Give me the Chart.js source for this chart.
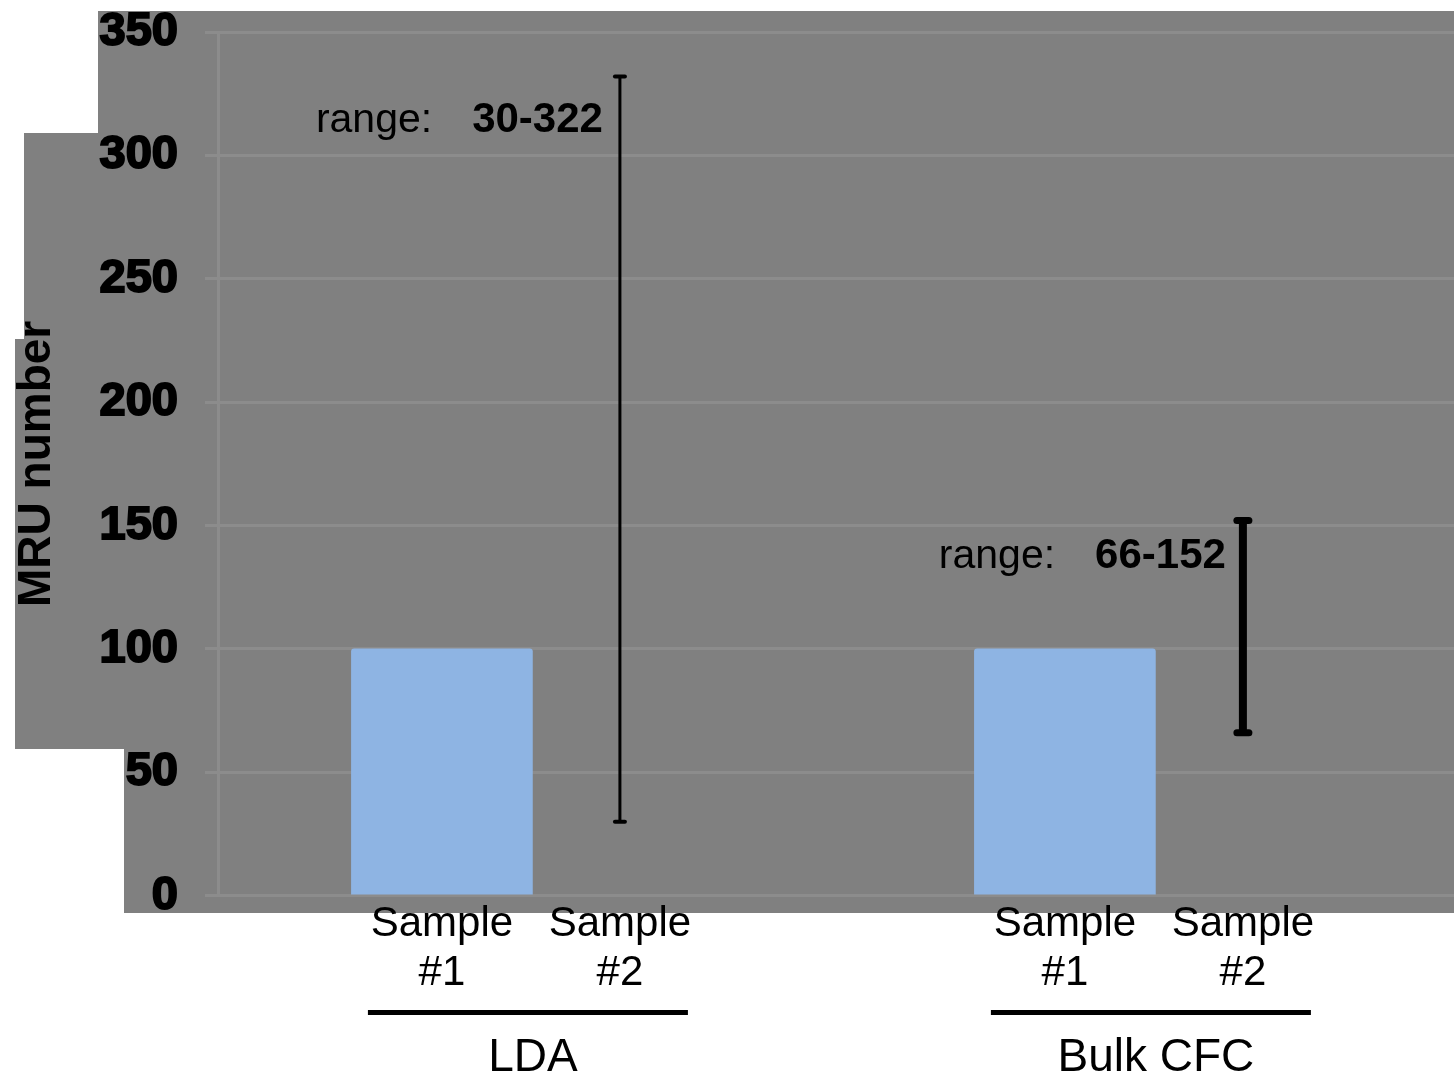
<!DOCTYPE html>
<html>
<head>
<meta charset="utf-8">
<script src="https://cdn.jsdelivr.net/npm/chart.js@4/dist/chart.umd.min.js"></script>
<style>
  body { margin: 0; background: #fff; }
  #wrap { width: 1454px; height: 1082px; }
</style>
</head>
<body>
<div id="wrap"><canvas id="mruChart" width="1454" height="1082"></canvas></div>
<script>
// data
const groups = ['LDA', 'Bulk CFC'];
const samples = [['Sample', '#1'], ['Sample', '#2']];
const xPos = [1, 2, 4.5, 5.5];           // Sample #1 / #2 of each group
const barValues = [100, 100];            // Sample #1 of each group
const rangeLow = [30, 66];               // Sample #2 error bars
const rangeHigh = [332, 152];
const rangeText = ['30-322', '66-152'];
const yTicks = [0, 50, 100, 150, 200, 250, 300, 350];

const gridGray = '#8c8c8c';

// odd gray panel behind the plot (from the original screenshot)
const bgPanel = {
  id: 'bgPanel',
  beforeDraw(chart) {
    const ctx = chart.ctx;
    ctx.save();
    ctx.fillStyle = '#808080';
    ctx.fillRect(98, 11, 1356, 122);
    ctx.fillRect(24, 133, 1430, 206);
    ctx.fillRect(15, 339, 1439, 410);
    ctx.fillRect(124, 749, 1330, 164);
    ctx.restore();
  }
};

// error bars + range labels for sample #2
const rangeBars = {
  id: 'rangeBars',
  afterDatasetsDraw(chart) {
    const ctx = chart.ctx;
    const x = chart.scales.x, y = chart.scales.y;
    const widths = [3, 8];
    const caps = [7, 8];
    ctx.save();
    groups.forEach((g, i) => {
      const px = x.getPixelForValue(xPos[i * 2 + 1]);
      const top = y.getPixelForValue(rangeHigh[i]);
      const bot = y.getPixelForValue(rangeLow[i]);
      ctx.strokeStyle = '#000';
      ctx.fillStyle = '#000';
      ctx.lineWidth = widths[i];
      ctx.beginPath();
      ctx.moveTo(px, top);
      ctx.lineTo(px, bot);
      ctx.stroke();
      ctx.lineCap = 'round';
      ctx.lineWidth = i === 0 ? 4 : 7;
      [top, bot].forEach(py => {
        ctx.beginPath();
        ctx.moveTo(px - caps[i] + 2, py);
        ctx.lineTo(px + caps[i] - 2, py);
        ctx.stroke();
      });
      ctx.lineCap = 'butt';

      // "range:  30-322"
      const ty = top + (i === 0 ? 44 : 36);
      ctx.textBaseline = 'middle';
      ctx.textAlign = 'right';
      ctx.font = 'bold 42px "Liberation Sans", Arial, sans-serif';
      const numRight = px - 17;
      ctx.fillText(rangeText[i], numRight, ty);
      const numW = ctx.measureText(rangeText[i]).width;
      ctx.font = '41px "Liberation Sans", Arial, sans-serif';
      ctx.fillText('range:', numRight - numW - 40, ty);
    });
    ctx.restore();
  }
};

// group underline + group name under the sample labels
const groupLabels = {
  id: 'groupLabels',
  afterDraw(chart) {
    const ctx = chart.ctx;
    const x = chart.scales.x;
    ctx.save();
    groups.forEach((g, i) => {
      const mid = (x.getPixelForValue(xPos[i * 2]) + x.getPixelForValue(xPos[i * 2 + 1])) / 2;
      ctx.fillStyle = '#000';
      ctx.fillRect(mid - 163, 1010, 320, 5);
      ctx.font = '46px "Liberation Sans", Arial, sans-serif';
      ctx.textAlign = 'center';
      ctx.textBaseline = 'middle';
      ctx.fillText(g, mid + 2, 1058);
    });
    ctx.restore();
  }
};

new Chart(document.getElementById('mruChart'), {
  type: 'bar',
  data: {
    datasets: [{
      data: groups.map((g, i) => ({ x: xPos[i * 2], y: barValues[i] })),
      backgroundColor: '#8eb4e3',
      borderWidth: 0,
      borderRadius: 3,
      borderSkipped: 'bottom',
      barThickness: 181
    }]
  },
  options: {
    responsive: false,
    animation: false,
    layout: { padding: { top: 32, right: 0, bottom: 80, left: 0 } },
    plugins: { legend: { display: false }, tooltip: { enabled: false } },
    scales: {
      x: {
        type: 'linear',
        offset: false,
        bounds: 'data',
        min: -0.258,
        max: 6.686,
        grid: { display: false, drawTicks: false },
        border: { display: false },
        afterBuildTicks: s => { s.ticks = xPos.map(v => ({ value: v })); },
        ticks: {
          autoSkip: false,
          maxRotation: 0,
          padding: 4,
          color: '#000',
          font: { family: '"Liberation Sans", Arial, sans-serif', size: 42, lineHeight: 1.17 },
          callback: (v, idx) => samples[idx % 2]
        }
      },
      y: {
        min: 0,
        max: 350,
        afterBuildTicks: s => { s.ticks = yTicks.map(v => ({ value: v })); },
        afterFit: s => { s.width = 218; s.paddingTop = 0; s.paddingBottom = 0; },
        grid: { color: gridGray, lineWidth: 3, tickLength: 13 },
        border: { color: gridGray, width: 3 },
        ticks: {
          padding: 27,
          color: '#000',
          textStrokeColor: '#000',
          textStrokeWidth: 2,
          font: { family: '"Liberation Sans", Arial, sans-serif', size: 47, weight: 'bold' }
        },
        title: {
          display: true,
          text: 'MRU number',
          color: '#000',
          padding: { top: 10, bottom: 0 },
          font: { family: '"Liberation Sans", Arial, sans-serif', size: 46, weight: 'bold' }
        }
      }
    }
  },
  plugins: [bgPanel, rangeBars, groupLabels]
});
</script>
</body>
</html>
